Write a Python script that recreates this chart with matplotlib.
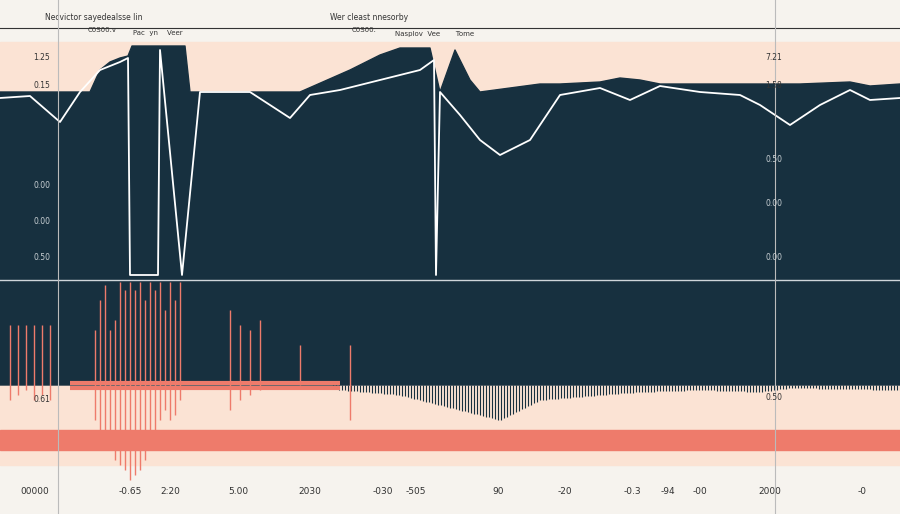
import matplotlib
matplotlib.use("Agg")
import matplotlib.pyplot as plt
import numpy as np

# data (pixel-like units, y downward)
top_x = [0, 60, 90, 100, 110, 120, 128, 132, 155, 160, 185, 190, 240, 300, 350, 380, 400, 430, 440, 455, 470, 480, 540, 560, 600, 620, 640, 660, 700, 800, 850, 870, 900]
top_y = [92, 92, 92, 70, 62, 58, 56, 46, 46, 46, 46, 92, 92, 92, 70, 55, 48, 48, 92, 50, 80, 92, 84, 84, 82, 78, 80, 84, 84, 84, 82, 86, 84]
bot_x = [0, 330, 340, 400, 460, 500, 540, 600, 640, 700, 760, 790, 900]
bot_y = [385, 385, 390, 395, 410, 420, 400, 395, 392, 390, 392, 388, 390]
line_x = [0, 30, 60, 80, 100, 120, 128, 130, 158, 160, 182, 200, 250, 290, 310, 340, 360, 380, 420, 434, 436, 440, 460, 480, 500, 530, 560, 600, 630, 660, 700, 740, 760, 790, 820, 850, 870, 900]
line_y = [98, 96, 122, 92, 70, 62, 58, 275, 275, 50, 275, 92, 92, 118, 95, 90, 85, 80, 70, 60, 275, 92, 115, 140, 155, 140, 95, 88, 100, 86, 92, 95, 105, 125, 105, 90, 100, 98]
spike_x = [10, 18, 26, 34, 42, 50, 95, 100, 105, 110, 115, 120, 125, 130, 135, 140, 145, 150, 155, 160, 165, 170, 175, 180, 230, 240, 250, 260, 300, 350]
spike_top = [325, 325, 325, 325, 325, 325, 330, 300, 285, 330, 320, 282, 290, 282, 290, 282, 300, 282, 290, 282, 310, 282, 300, 282, 310, 325, 330, 320, 345, 345]
spike_bot = [400, 395, 390, 400, 395, 400, 420, 440, 445, 430, 460, 465, 470, 480, 475, 470, 460, 440, 430, 420, 410, 420, 415, 400, 410, 400, 395, 390, 385, 420]
xtick_pos = [35, 130, 170, 238, 310, 383, 416, 498, 565, 632, 668, 700, 770, 862]
xtick_lab = ["00000", "-0.65", "2:20", "5.00", "2030", "-030", "-505", "90", "-20", "-0.3", "-94", "-00", "2000", "-0"]
ltick_pos = [58, 85, 185, 222, 258, 400]
ltick_lab = ["1.25", "0.15", "0.00", "0.00", "0.50", "0.61"]
rtick_pos = [58, 85, 160, 203, 258, 398]
rtick_lab = ["7.21", "1.58", "0.50", "0.00", "0.00", "0.50"]

navy = "#17303f"; peach = "#fbe3d4"; salmon = "#ee7b6b"; bg = "#f6f3ee"
fig = plt.figure(figsize=(9, 5.14), dpi=100, facecolor=bg)
ax = fig.add_axes([0, 0, 1, 1]); ax.set_xlim(0, 900); ax.set_ylim(514, 0); ax.axis("off")
ax.axhspan(42, 92, color=peach, zorder=0)
ax.axhspan(385, 465, color=peach, zorder=0)
ax.axhspan(430, 450, color=salmon, zorder=1)
xs = np.arange(0, 901, 1)
t = np.interp(xs, top_x, top_y); b = np.interp(xs, bot_x, bot_y)
ax.fill_between(xs, t, 385, color=navy, zorder=2)
ax.vlines(xs[::3], 385, b[::3], color=navy, lw=0.8, zorder=2)
ax.plot(line_x, line_y, color="white", lw=1.3, zorder=3)
ax.vlines(spike_x, spike_top, spike_bot, color=salmon, lw=1, zorder=2)
ax.axhline(28, color="#333", lw=0.8, zorder=4)
ax.axhline(280, color="#cfd6da", lw=1, zorder=4)
for x in [58, 775]:
    ax.axvline(x, color="#bbb", lw=0.8, zorder=4)
ax.hlines([383, 388], 70, 340, color=salmon, lw=3, zorder=3)
for p, l in zip(xtick_pos, xtick_lab):
    ax.text(p, 492, l, ha="center", va="center", fontsize=6.5, color="#333")
def tc(p):
    return "#c9d0d4" if 95 < p < 383 else "#333"
for p, l in zip(ltick_pos, ltick_lab):
    ax.text(50, p, l, ha="right", va="center", fontsize=5.5, color=tc(p), zorder=5)
for p, l in zip(rtick_pos, rtick_lab):
    ax.text(765, p, l, ha="left", va="center", fontsize=5.5, color=tc(p), zorder=5)
ax.text(45, 20, "Necvictor sayedealsse lin", fontsize=5.5, color="#333")
ax.text(330, 20, "Wer cleast nnesorby", fontsize=5.5, color="#333")
ax.text(88, 32, "C0S00.v", fontsize=5, color="#333")
ax.text(133, 35, "Pac  yn    Veer", fontsize=5, color="#333")
ax.text(352, 32, "C0S00.", fontsize=5, color="#333")
ax.text(395, 36, "Nasplov  Vee       Tome", fontsize=5, color="#333")
fig.savefig("out.png", dpi=100, facecolor=bg)
